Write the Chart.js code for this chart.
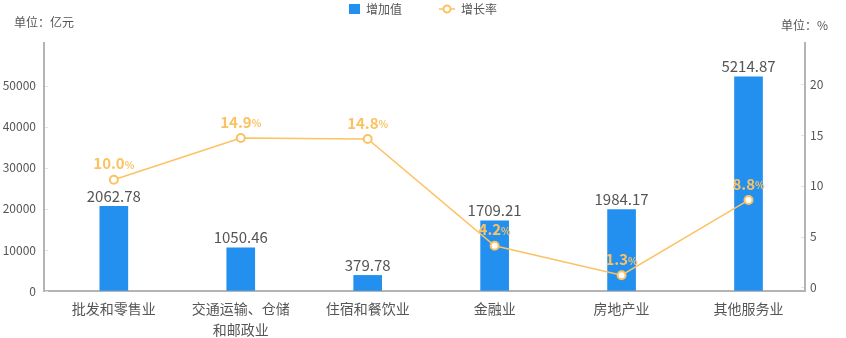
<!DOCTYPE html>
<html>
<head>
<meta charset="utf-8">
<script src="https://cdn.jsdelivr.net/npm/chart.js@4.4.1/dist/chart.umd.min.js"></script>
<style>
  body { margin: 0; background: #fff; }
  #wrap { width: 846px; height: 338px; }
</style>
</head>
<body>
<div id="wrap"><canvas id="valueChart" width="846" height="338"></canvas></div>
<script>
const categories = ['批发和零售业', ['交通运输、仓储', '和邮政业'], '住宿和餐饮业', '金融业', '房地产业', '其他服务业'];
const addedValues = [2062.78, 1050.46, 379.78, 1709.21, 1984.17, 5214.87];
const growthRates = [10.6, 14.7, 14.6, 4.1, 1.2, 8.6];
const growthLabels = ['10.0', '14.9', '14.8', '4.2', '1.3', '8.8'];
const leftTicks = [0, 1000, 2000, 3000, 4000, 5000];
const leftTickLabels = ['0', '10000', '20000', '30000', '40000', '50000'];
const rightTicks = [0, 5, 10, 15, 20];

const FONT = '"Noto Sans CJK SC", "Noto Sans", sans-serif';
const BLUE = '#2390f0';
const ORANGE = '#fcc262';
const TEXT = '#555555';
const AXIS = '#b4b4b4';

// labels, legend, unit text and the small inner tick marks
const extras = {
  id: 'extras',
  afterDatasetsDraw(chart) {
    const c = chart.ctx;
    const area = chart.chartArea;
    c.save();

    // tick marks inside the axes
    c.strokeStyle = '#e2e2e2';
    c.lineWidth = 1;
    const yl = chart.scales.y;
    yl.ticks.forEach(t => {
      const y = Math.round(yl.getPixelForValue(t.value)) + 0.5;
      c.beginPath(); c.moveTo(area.left + 1, y); c.lineTo(area.left + 4, y); c.stroke();
    });
    const yr = chart.scales.y1;
    yr.ticks.forEach(t => {
      const y = Math.round(yr.getPixelForValue(t.value)) + 0.5;
      c.beginPath(); c.moveTo(area.right - 4, y); c.lineTo(area.right - 1, y); c.stroke();
    });

    // bar value labels
    c.font = '15px ' + FONT;
    c.fillStyle = TEXT;
    c.textAlign = 'center';
    c.textBaseline = 'middle';
    chart.getDatasetMeta(1).data.forEach((bar, i) => {
      c.fillText(addedValues[i].toFixed(2), bar.x, bar.y - 10.5);
    });

    // growth labels
    chart.getDatasetMeta(0).data.forEach((pt, i) => {
      const num = growthLabels[i];
      c.font = 'bold 15px ' + FONT;
      const w1 = c.measureText(num).width;
      c.font = 'bold 10px ' + FONT;
      const w2 = c.measureText('%').width;
      const x0 = pt.x - (w1 + w2) / 2;
      const y = pt.y - 16;
      c.fillStyle = ORANGE;
      c.textAlign = 'left';
      c.font = 'bold 15px ' + FONT;
      c.fillText(num, x0, y);
      c.font = 'bold 10px ' + FONT;
      c.fillText('%', x0 + w1, y + 1.5);
    });

    // legend
    c.textAlign = 'left';
    c.textBaseline = 'middle';
    c.font = '12px ' + FONT;
    c.fillStyle = BLUE;
    c.fillRect(349, 4, 11, 10);
    c.fillStyle = TEXT;
    c.fillText('增加值', 366, 9);
    c.strokeStyle = ORANGE;
    c.lineWidth = 1.5;
    c.beginPath(); c.moveTo(439, 9); c.lineTo(455, 9); c.stroke();
    c.lineWidth = 2;
    c.fillStyle = '#fff';
    c.beginPath(); c.arc(447, 9, 3.5, 0, Math.PI * 2); c.fill(); c.stroke();
    c.fillStyle = TEXT;
    c.fillText('增长率', 461, 9);

    // units
    c.fillText('单位：亿元', 14, 22.5);
    c.fillText('单位：%', 781, 25.5);
    c.restore();
  }
};

// x is a linear index axis so the category slots can sit like the original
const barPoints = addedValues.map((v, i) => ({ x: i, y: v }));
const ratePoints = growthRates.map((v, i) => ({ x: i, y: v }));

new Chart(document.getElementById('valueChart'), {
  data: {
    datasets: [{
      type: 'line',
      label: '增长率',
      data: ratePoints,
      yAxisID: 'y1',
      borderColor: ORANGE,
      borderWidth: 1.5,
      pointRadius: 4,
      pointBorderWidth: 2,
      pointBackgroundColor: '#fff',
      pointBorderColor: ORANGE,
      tension: 0,
      order: 0
    }, {
      type: 'bar',
      label: '增加值',
      data: barPoints,
      yAxisID: 'y',
      backgroundColor: BLUE,
      barThickness: 28,
      order: 1
    }]
  },
  options: {
    responsive: false,
    animation: false,
    layout: { padding: { top: 43, left: 0, right: 0, bottom: 0 } },
    plugins: {
      legend: { display: false },
      tooltip: { enabled: false }
    },
    scales: {
      x: {
        type: 'linear',
        offset: false,
        min: -0.55,
        max: 5.445,
        grid: { drawOnChartArea: false, drawTicks: false, offset: false },
        border: { display: true, color: AXIS, width: 2 },
        afterBuildTicks: s => { s.ticks = categories.map((_, i) => ({ value: i })); },
        ticks: {
          autoSkip: false, maxRotation: 0, padding: 7,
          color: TEXT, font: { family: FONT, size: 14, lineHeight: 1.5 },
          callback: (v) => categories[v]
        },
        afterFit: s => { s.height = 47; }
      },
      y: {
        position: 'left',
        min: 0,
        max: 6040,
        grid: { drawOnChartArea: false, drawTicks: false },
        border: { display: true, color: AXIS, width: 2 },
        afterBuildTicks: s => { s.ticks = leftTicks.map(v => ({ value: v })); },
        ticks: {
          padding: 8, color: TEXT, font: { family: FONT, size: 12 },
          callback: (v) => leftTickLabels[leftTicks.indexOf(v)]
        },
        afterFit: s => { s.width = 44; }
      },
      y1: {
        position: 'right',
        min: -0.35,
        max: 24.05,
        grid: { drawOnChartArea: false, drawTicks: false },
        border: { display: true, color: AXIS, width: 2 },
        afterBuildTicks: s => { s.ticks = rightTicks.map(v => ({ value: v })); },
        ticks: {
          padding: 5, color: TEXT, font: { family: FONT, size: 12 },
          callback: (v) => String(v)
        },
        afterFit: s => { s.width = 41; }
      }
    }
  },
  plugins: [extras]
});
</script>
</body>
</html>
